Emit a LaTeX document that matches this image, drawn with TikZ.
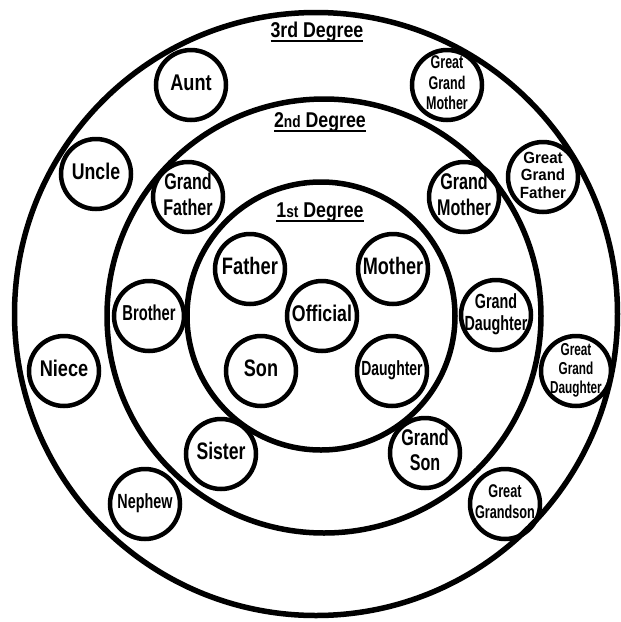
\documentclass[tikz,border=0pt]{standalone}
\usepackage{fontspec}
\setmainfont{Liberation Sans}
\usepackage{graphicx}
% #1 horizontal scale, #2 font size, #3 line spacing, #4 text
\newcommand{\lb}[4]{\scalebox{#1}[1]{\fontsize{#2}{#3}\selectfont\bfseries\begin{tabular}{@{}c@{}}#4\end{tabular}}}
\newcommand{\ulx}[1]{\setbox0\hbox{#1}\rlap{\rule[-4.5pt]{\wd0}{1.6pt}}\box0}
\newcommand{\degl}[3]{\scalebox{0.83}[1]{\fontsize{21.4}{24}\selectfont\bfseries\ulx{#1{\fontsize{#3}{18}\selectfont #2} Degree}}}
\tikzset{
  ring/.style={circle, draw, line width=5.5pt, inner sep=0pt},
  bub/.style={circle, draw, line width=4.5pt, minimum size=70pt, inner sep=0pt},
  lab/.style={inner sep=0pt}
}
\begin{document}
\begin{tikzpicture}[x=1pt,y=-1pt]
\useasboundingbox (0,0) rectangle (621,622);
\fill[white] (0,0) rectangle (621,622);
% rings
\node[ring, minimum size=603pt] (r3) at (316,314) {};
\node[ring, minimum size=434pt] (r2) at (324,316) {};
\node[ring, minimum size=268pt] (r1) at (321,316) {};
% degree titles
\node[lab, anchor=base] (t3) at (317,37) {\degl{3}{rd}{21.4}};
\node[lab, anchor=base] (t2) at (320,127) {\degl{2}{nd}{16.5}};
\node[lab, anchor=base] (t1) at (320,217) {\degl{1}{st}{16.5}};
% first degree
\node[bub, label={[lab]center:\lb{0.78}{22.7}{26}{Official}}] (off) at (322,316) {};
\node[bub, label={[lab]center:\lb{0.77}{23.8}{26}{Father}}] (fa) at (250,269) {};
\node[bub, label={[lab]center:\lb{0.76}{23.8}{26}{Mother}}] (mo) at (393,269) {};
\node[bub, label={[lab]center:\lb{0.76}{23.8}{26}{Son}}] (so) at (261,371) {};
\node[bub, label={[lab]center:\lb{0.68}{20.5}{23}{Daughter}}] (da) at (392,371) {};
% second degree
\node[bub, label={[lab]center:\lb{0.68}{21.6}{24}{Brother}}] (br) at (149,316) {};
\node[bub, label={[lab]center:\lb{0.71}{22.7}{26.5}{Grand\\Father}}] (gf) at (188,197) {};
\node[bub, label={[lab]center:\lb{0.71}{22.7}{26.5}{Grand\\Mother}}] (gm) at (464,197) {};
\node[bub, label={[lab]center:\lb{0.70}{20.5}{22.5}{Grand\\Daughter}}] (gd) at (496,315) {};
\node[bub, label={[lab]center:\lb{0.74}{23.8}{26}{Sister}}] (si) at (221,454) {};
\node[bub, label={[lab]center:\lb{0.71}{22.7}{25.5}{Grand\\Son}}] (gs) at (425,453) {};
% third degree
\node[bub, label={[lab]center:\lb{0.80}{22.7}{26}{Aunt}}] (au) at (191,85) {};
\node[bub, label={[lab]center:\lb{0.78}{22.7}{26}{Uncle}}] (un) at (96,174) {};
\node[bub, label={[lab]center:\lb{0.80}{22.7}{26}{Niece}}] (ni) at (64,371) {};
\node[bub, label={[lab]center:\lb{0.70}{20.5}{23}{Nephew}}] (ne) at (145,504) {};
\node[bub, label={[lab]center:\lb{0.68}{18.4}{20.5}{Great\\Grand\\Mother}}] (ggm) at (447,85) {};
\node[bub, label={[lab]center:\lb{0.93}{16.2}{17.5}{Great\\Grand\\Father}}] (ggf) at (543,177) {};
\node[bub, label={[lab]center:\lb{0.68}{17.3}{19}{Great\\Grand\\Daughter}}] (ggd) at (576,371) {};
\node[bub, label={[lab]center:\lb{0.69}{18.4}{21}{Great\\Grandson}}] (ggs) at (505,504) {};
\end{tikzpicture}
\end{document}
